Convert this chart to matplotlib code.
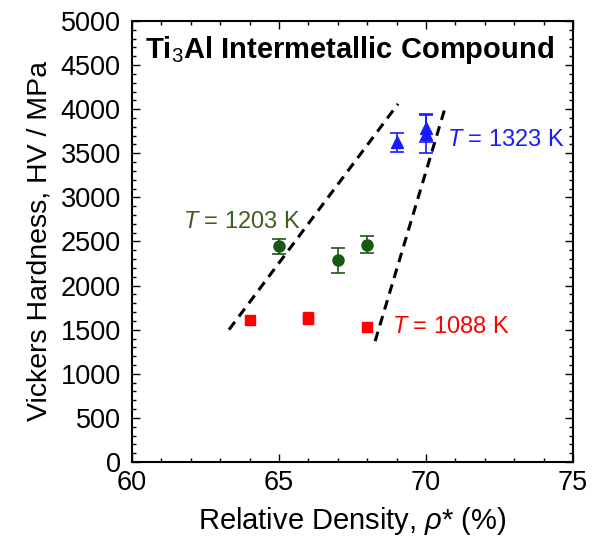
import matplotlib
matplotlib.use('Agg')
import matplotlib.pyplot as plt
from matplotlib.ticker import MultipleLocator

plt.rcParams['font.family'] = 'Liberation Sans'
plt.rcParams['mathtext.fontset'] = 'custom'
plt.rcParams['mathtext.rm'] = 'Liberation Sans'
plt.rcParams['mathtext.it'] = 'Liberation Sans:italic'
plt.rcParams['mathtext.bf'] = 'Liberation Sans:bold'

# datos
dens_1088 = [64, 66, 66, 68]
hv_1088 = [1615, 1645, 1620, 1525]

dens_1203 = [65, 67, 68]
hv_1203 = [2445, 2285, 2465]
err_1203 = [85, 140, 100]

dens_1323 = [69, 70, 70]
hv_1323 = [3625, 3790, 3720]
err_1323 = [110, 160, 215]

linea1_x = [63.3, 69.05]
linea1_y = [1500, 4060]
linea2_x = [68.27, 70.68]
linea2_y = [1370, 4050]

rojo = '#ff0000'
verde = '#175a14'
azul = '#1a1aff'

fig = plt.figure(figsize=(6.01, 5.42), dpi=100)
ax = fig.add_axes([0.2196, 0.1476, 0.7338, 0.8137])

ax.plot(linea1_x, linea1_y, color='k', linestyle=(0, (3.2, 2.2)), linewidth=2.2)
ax.plot(linea2_x, linea2_y, color='k', linestyle=(0, (3.2, 2.2)), linewidth=2.2)

ax.plot(dens_1088, hv_1088, 's', color=rojo, markersize=7.3, linestyle='none')
ax.errorbar(dens_1203, hv_1203, yerr=err_1203, fmt='o', color=verde,
            markersize=8, capsize=5, elinewidth=1.2, capthick=1.2)
ax.errorbar(dens_1323, hv_1323, yerr=err_1323, fmt='^', color=azul,
            markersize=8, capsize=5, elinewidth=1.2, capthick=1.2)

ax.text(61.75, 2720, r'$T$ = 1203 K', color='#3f5f22', fontsize=17, va='center')
ax.text(70.7, 3650, r'$T$ = 1323 K', color=azul, fontsize=17, va='center')
ax.text(68.85, 1535, r'$T$ = 1088 K', color=rojo, fontsize=17, va='center')

ax.text(0.03, 0.935, r'Ti$_3$Al Intermetallic Compound', transform=ax.transAxes,
        fontsize=21, fontweight='bold', va='center')

ax.set_xlim(60, 75)
ax.set_ylim(0, 5000)
ax.xaxis.set_major_locator(MultipleLocator(5))
ax.xaxis.set_minor_locator(MultipleLocator(1))
ax.yaxis.set_major_locator(MultipleLocator(500))
ax.yaxis.set_minor_locator(MultipleLocator(100))
ax.tick_params(which='both', direction='in', top=True, right=True, labelsize=19.5)
ax.tick_params(which='major', length=6, width=1)
ax.tick_params(which='minor', length=3, width=1)
ax.tick_params(axis='y', which='major', pad=8)
ax.tick_params(axis='x', which='major', pad=6)
for s in ax.spines.values():
    s.set_linewidth(1.5)

ax.set_xlabel(r'Relative Density, $\rho$* (%)', fontsize=21, labelpad=6)
ax.set_ylabel('Vickers Hardness, HV / MPa', fontsize=20.5, labelpad=6)

fig.savefig('out.png', dpi=100)
